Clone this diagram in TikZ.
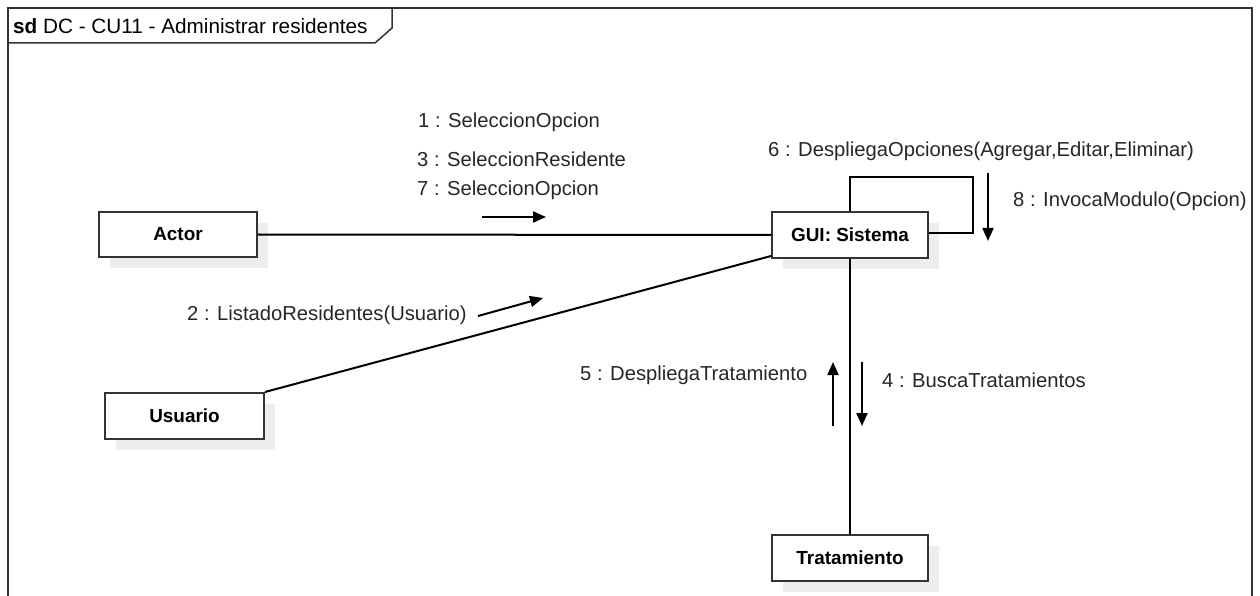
\documentclass[tikz,border=0pt]{standalone}
\usepackage{fontspec}
\setmainfont{Liberation Sans}
\usetikzlibrary{arrows.meta,shadows}
\tikzset{
  obj/.style={draw=black!80, line width=2bp, fill=white, anchor=north west,
    minimum width=157bp, minimum height=46bp, inner sep=0pt,
    font=\fontsize{19}{22}\selectfont\bfseries,
    drop shadow={shadow xshift=11bp, shadow yshift=-11bp, fill=black!7, opacity=1}},
  conn/.style={line width=2bp, black},
  msg/.style={line width=2bp, black, -{Triangle[length=13bp,width=11bp]}},
  lbl/.style={anchor=west, inner sep=0pt, text=black!85, font=\fontsize{20.3}{23}\selectfont},
}
\begin{document}
\begin{tikzpicture}[x=1bp,y=-1bp]
\useasboundingbox (0,0) rectangle (1260,596);
% frame
\draw[line width=1.5bp, black!80] (8,620) -- (8,8) -- (1252,8) -- (1252,620);
\draw[line width=1.5bp, black!80] (8,43) -- (375,43) -- (392,28) -- (392,8);
\node[anchor=west, inner sep=0pt, font=\fontsize{20.8}{23}\selectfont] (title) at (13,26) {\textbf{sd} DC - CU11 - Administrar residentes};
% objects
\node[obj, minimum width=158bp, minimum height=45bp] (actor) at (98,211) {Actor};
\node[obj, minimum width=159bp] (usuario) at (104,392) {Usuario};
\node[obj, minimum width=156bp] (gui) at (771,211) {GUI: Sistema};
\node[obj, minimum width=156bp] (trat) at (771,534) {Tratamiento};
% connectors
\coordinate (loopc) at (973,177);
\draw[conn] (actor.east) -- (gui.west);
\draw[conn] (usuario.north east) -- ([yshift=3bp]gui.south west);
\draw[conn] (gui.north) |- (loopc) |- ([yshift=2bp]gui.east);
\draw[conn] (gui.south) -- (trat.north);
% message arrows
\coordinate (a1s) at (482,217); \coordinate (a1e) at (546,217);
\coordinate (a2s) at (478,316); \coordinate (a2e) at (543,298);
\coordinate (a8s) at (988,173); \coordinate (a8e) at (988,241);
\coordinate (a5s) at (833,426); \coordinate (a5e) at (833,362);
\coordinate (a4s) at (862,362); \coordinate (a4e) at (862,426);
\draw[msg] (a1s) -- (a1e);
\draw[msg] (a2s) -- (a2e);
\draw[msg] (a8s) -- (a8e);
\draw[msg] (a5s) -- (a5e);
\draw[msg] (a4s) -- (a4e);
% labels
\node[lbl] (l1) at (418,122) {1 : SeleccionOpcion};
\node[lbl] (l3) at (417,159) {3 : SeleccionResidente};
\node[lbl] (l7) at (417,190) {7 : SeleccionOpcion};
\node[lbl] (l6) at (768,151) {6 : DespliegaOpciones(Agregar,Editar,Eliminar)};
\node[lbl] (l8) at (1013,201) {8 : InvocaModulo(Opcion)};
\node[lbl] (l2) at (187,315) {2 : ListadoResidentes(Usuario)};
\node[lbl] (l5) at (580,375) {5 : DespliegaTratamiento};
\node[lbl] (l4) at (882,380) {4 : BuscaTratamientos};
\end{tikzpicture}
\end{document}
